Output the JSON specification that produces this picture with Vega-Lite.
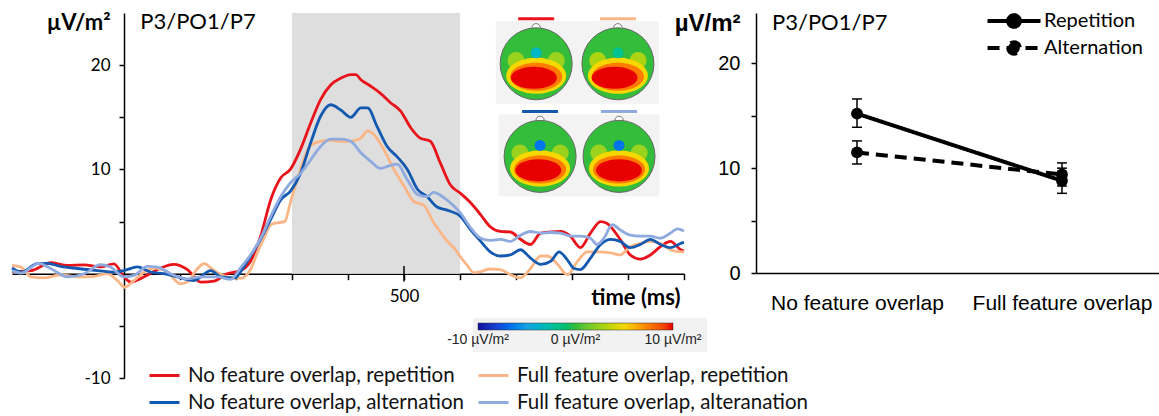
{
  "$schema": "https://vega.github.io/schema/vega-lite/v6.json",
  "padding": {"left": 6, "top": 8, "right": 0, "bottom": 0},
  "autosize": {"type": "pad"},
  "bounds": "flush",
  "spacing": 72,
  "config": {
    "view": {"stroke": null},
    "font": "Lato",
    "axis": {"grid": false, "domainColor": "black", "domainWidth": 1.5, "tickColor": "black", "tickWidth": 1.5, "labelColor": "black", "titleColor": "black"},
    "legend": {"labelLimit": 0}
  },
  "datasets": {
    "erp": [
      {"series": "No feature overlap, repetition", "t": -200, "v": 0.2},
      {"series": "No feature overlap, repetition", "t": -166, "v": 0.3},
      {"series": "No feature overlap, repetition", "t": -131, "v": 1.05},
      {"series": "No feature overlap, repetition", "t": -101, "v": 0.8},
      {"series": "No feature overlap, repetition", "t": -71, "v": 0.85},
      {"series": "No feature overlap, repetition", "t": -42, "v": 0.65},
      {"series": "No feature overlap, repetition", "t": -18, "v": 0.95},
      {"series": "No feature overlap, repetition", "t": 0, "v": -0.3},
      {"series": "No feature overlap, repetition", "t": 12, "v": -0.8},
      {"series": "No feature overlap, repetition", "t": 36, "v": -0.3},
      {"series": "No feature overlap, repetition", "t": 60, "v": 0.4},
      {"series": "No feature overlap, repetition", "t": 89, "v": 0.9},
      {"series": "No feature overlap, repetition", "t": 113, "v": 0.4},
      {"series": "No feature overlap, repetition", "t": 137, "v": -0.8},
      {"series": "No feature overlap, repetition", "t": 161, "v": -0.7},
      {"series": "No feature overlap, repetition", "t": 184, "v": 0.0},
      {"series": "No feature overlap, repetition", "t": 208, "v": 0.3},
      {"series": "No feature overlap, repetition", "t": 226, "v": 1.2},
      {"series": "No feature overlap, repetition", "t": 244, "v": 3.6},
      {"series": "No feature overlap, repetition", "t": 262, "v": 7.1},
      {"series": "No feature overlap, repetition", "t": 280, "v": 9.2},
      {"series": "No feature overlap, repetition", "t": 297, "v": 10.0},
      {"series": "No feature overlap, repetition", "t": 315, "v": 11.9},
      {"series": "No feature overlap, repetition", "t": 333, "v": 14.4},
      {"series": "No feature overlap, repetition", "t": 351, "v": 16.7},
      {"series": "No feature overlap, repetition", "t": 369, "v": 18.1},
      {"series": "No feature overlap, repetition", "t": 387, "v": 18.75},
      {"series": "No feature overlap, repetition", "t": 405, "v": 19.1},
      {"series": "No feature overlap, repetition", "t": 414, "v": 19.1},
      {"series": "No feature overlap, repetition", "t": 423, "v": 18.6},
      {"series": "No feature overlap, repetition", "t": 440, "v": 18.0},
      {"series": "No feature overlap, repetition", "t": 458, "v": 17.3},
      {"series": "No feature overlap, repetition", "t": 476, "v": 16.4},
      {"series": "No feature overlap, repetition", "t": 494, "v": 15.6},
      {"series": "No feature overlap, repetition", "t": 512, "v": 14.0},
      {"series": "No feature overlap, repetition", "t": 529, "v": 13.0},
      {"series": "No feature overlap, repetition", "t": 547, "v": 12.7},
      {"series": "No feature overlap, repetition", "t": 565, "v": 10.6},
      {"series": "No feature overlap, repetition", "t": 583, "v": 8.5},
      {"series": "No feature overlap, repetition", "t": 601, "v": 7.7},
      {"series": "No feature overlap, repetition", "t": 619, "v": 6.8},
      {"series": "No feature overlap, repetition", "t": 637, "v": 5.65},
      {"series": "No feature overlap, repetition", "t": 654, "v": 4.5},
      {"series": "No feature overlap, repetition", "t": 672, "v": 4.05},
      {"series": "No feature overlap, repetition", "t": 690, "v": 4.0},
      {"series": "No feature overlap, repetition", "t": 708, "v": 3.3},
      {"series": "No feature overlap, repetition", "t": 726, "v": 2.8},
      {"series": "No feature overlap, repetition", "t": 744, "v": 3.9},
      {"series": "No feature overlap, repetition", "t": 762, "v": 4.0},
      {"series": "No feature overlap, repetition", "t": 779, "v": 4.05},
      {"series": "No feature overlap, repetition", "t": 797, "v": 3.6},
      {"series": "No feature overlap, repetition", "t": 815, "v": 2.5},
      {"series": "No feature overlap, repetition", "t": 833, "v": 3.9},
      {"series": "No feature overlap, repetition", "t": 851, "v": 5.0},
      {"series": "No feature overlap, repetition", "t": 862, "v": 4.85},
      {"series": "No feature overlap, repetition", "t": 886, "v": 3.3},
      {"series": "No feature overlap, repetition", "t": 904, "v": 1.8},
      {"series": "No feature overlap, repetition", "t": 922, "v": 1.4},
      {"series": "No feature overlap, repetition", "t": 940, "v": 1.8},
      {"series": "No feature overlap, repetition", "t": 958, "v": 2.6},
      {"series": "No feature overlap, repetition", "t": 976, "v": 3.1},
      {"series": "No feature overlap, repetition", "t": 994, "v": 2.3},
      {"series": "No feature overlap, repetition", "t": 1000, "v": 2.2},

      {"series": "Full feature overlap, repetition", "t": -200, "v": 0.8},
      {"series": "Full feature overlap, repetition", "t": -184, "v": 0.64},
      {"series": "Full feature overlap, repetition", "t": -166, "v": -0.3},
      {"series": "Full feature overlap, repetition", "t": -143, "v": -0.4},
      {"series": "Full feature overlap, repetition", "t": -113, "v": -0.1},
      {"series": "Full feature overlap, repetition", "t": -83, "v": -0.3},
      {"series": "Full feature overlap, repetition", "t": -53, "v": -0.25},
      {"series": "Full feature overlap, repetition", "t": -30, "v": 0.0},
      {"series": "Full feature overlap, repetition", "t": -12, "v": -0.64},
      {"series": "Full feature overlap, repetition", "t": 1, "v": -1.3},
      {"series": "Full feature overlap, repetition", "t": 18, "v": -0.64},
      {"series": "Full feature overlap, repetition", "t": 36, "v": 0.16},
      {"series": "Full feature overlap, repetition", "t": 54, "v": 0.54},
      {"series": "Full feature overlap, repetition", "t": 77, "v": 0.16},
      {"series": "Full feature overlap, repetition", "t": 101, "v": -0.96},
      {"series": "Full feature overlap, repetition", "t": 113, "v": -0.8},
      {"series": "Full feature overlap, repetition", "t": 131, "v": 0.48},
      {"series": "Full feature overlap, repetition", "t": 143, "v": 0.96},
      {"series": "Full feature overlap, repetition", "t": 161, "v": 0.3},
      {"series": "Full feature overlap, repetition", "t": 184, "v": -0.3},
      {"series": "Full feature overlap, repetition", "t": 208, "v": -0.45},
      {"series": "Full feature overlap, repetition", "t": 226, "v": 0.4},
      {"series": "Full feature overlap, repetition", "t": 238, "v": 2.0},
      {"series": "Full feature overlap, repetition", "t": 250, "v": 3.4},
      {"series": "Full feature overlap, repetition", "t": 262, "v": 4.7},
      {"series": "Full feature overlap, repetition", "t": 276, "v": 4.9},
      {"series": "Full feature overlap, repetition", "t": 287, "v": 5.0},
      {"series": "Full feature overlap, repetition", "t": 297, "v": 6.8},
      {"series": "Full feature overlap, repetition", "t": 315, "v": 10.0},
      {"series": "Full feature overlap, repetition", "t": 333, "v": 12.3},
      {"series": "Full feature overlap, repetition", "t": 351, "v": 12.7},
      {"series": "Full feature overlap, repetition", "t": 369, "v": 12.8},
      {"series": "Full feature overlap, repetition", "t": 387, "v": 12.7},
      {"series": "Full feature overlap, repetition", "t": 405, "v": 12.7},
      {"series": "Full feature overlap, repetition", "t": 423, "v": 13.0},
      {"series": "Full feature overlap, repetition", "t": 435, "v": 13.7},
      {"series": "Full feature overlap, repetition", "t": 447, "v": 13.3},
      {"series": "Full feature overlap, repetition", "t": 464, "v": 11.9},
      {"series": "Full feature overlap, repetition", "t": 482, "v": 10.0},
      {"series": "Full feature overlap, repetition", "t": 500, "v": 8.4},
      {"series": "Full feature overlap, repetition", "t": 518, "v": 6.9},
      {"series": "Full feature overlap, repetition", "t": 535, "v": 6.6},
      {"series": "Full feature overlap, repetition", "t": 553, "v": 4.9},
      {"series": "Full feature overlap, repetition", "t": 565, "v": 4.0},
      {"series": "Full feature overlap, repetition", "t": 576, "v": 3.2},
      {"series": "Full feature overlap, repetition", "t": 589, "v": 2.5},
      {"series": "Full feature overlap, repetition", "t": 601, "v": 1.6},
      {"series": "Full feature overlap, repetition", "t": 613, "v": 0.8},
      {"series": "Full feature overlap, repetition", "t": 625, "v": 0.1},
      {"series": "Full feature overlap, repetition", "t": 637, "v": 0.2},
      {"series": "Full feature overlap, repetition", "t": 654, "v": 0.45},
      {"series": "Full feature overlap, repetition", "t": 672, "v": 0.4},
      {"series": "Full feature overlap, repetition", "t": 690, "v": -0.1},
      {"series": "Full feature overlap, repetition", "t": 708, "v": -0.4},
      {"series": "Full feature overlap, repetition", "t": 726, "v": 0.5},
      {"series": "Full feature overlap, repetition", "t": 744, "v": 1.7},
      {"series": "Full feature overlap, repetition", "t": 756, "v": 1.7},
      {"series": "Full feature overlap, repetition", "t": 774, "v": 0.9},
      {"series": "Full feature overlap, repetition", "t": 792, "v": -0.1},
      {"series": "Full feature overlap, repetition", "t": 810, "v": 1.2},
      {"series": "Full feature overlap, repetition", "t": 827, "v": 2.1},
      {"series": "Full feature overlap, repetition", "t": 845, "v": 2.1},
      {"series": "Full feature overlap, repetition", "t": 869, "v": 2.0},
      {"series": "Full feature overlap, repetition", "t": 886, "v": 1.8},
      {"series": "Full feature overlap, repetition", "t": 904, "v": 2.6},
      {"series": "Full feature overlap, repetition", "t": 922, "v": 2.9},
      {"series": "Full feature overlap, repetition", "t": 940, "v": 3.1},
      {"series": "Full feature overlap, repetition", "t": 958, "v": 2.9},
      {"series": "Full feature overlap, repetition", "t": 976, "v": 2.3},
      {"series": "Full feature overlap, repetition", "t": 994, "v": 2.1},
      {"series": "Full feature overlap, repetition", "t": 1000, "v": 2.1},

      {"series": "No feature overlap, alternation", "t": -200, "v": 0.55},
      {"series": "No feature overlap, alternation", "t": -183, "v": 0.16},
      {"series": "No feature overlap, alternation", "t": -155, "v": 0.96},
      {"series": "No feature overlap, alternation", "t": -137, "v": 1.0},
      {"series": "No feature overlap, alternation", "t": -113, "v": 0.7},
      {"series": "No feature overlap, alternation", "t": -83, "v": 0.5},
      {"series": "No feature overlap, alternation", "t": -47, "v": 0.3},
      {"series": "No feature overlap, alternation", "t": -18, "v": 0.16},
      {"series": "No feature overlap, alternation", "t": 0, "v": 0.3},
      {"series": "No feature overlap, alternation", "t": 24, "v": 0.65},
      {"series": "No feature overlap, alternation", "t": 48, "v": 0.16},
      {"series": "No feature overlap, alternation", "t": 71, "v": 0.0},
      {"series": "No feature overlap, alternation", "t": 95, "v": -0.3},
      {"series": "No feature overlap, alternation", "t": 125, "v": -0.65},
      {"series": "No feature overlap, alternation", "t": 155, "v": 0.3},
      {"series": "No feature overlap, alternation", "t": 173, "v": -0.3},
      {"series": "No feature overlap, alternation", "t": 198, "v": -0.4},
      {"series": "No feature overlap, alternation", "t": 212, "v": 0.5},
      {"series": "No feature overlap, alternation", "t": 226, "v": 1.7},
      {"series": "No feature overlap, alternation", "t": 244, "v": 3.3},
      {"series": "No feature overlap, alternation", "t": 262, "v": 5.2},
      {"series": "No feature overlap, alternation", "t": 280, "v": 7.1},
      {"series": "No feature overlap, alternation", "t": 297, "v": 7.9},
      {"series": "No feature overlap, alternation", "t": 315, "v": 9.6},
      {"series": "No feature overlap, alternation", "t": 333, "v": 12.5},
      {"series": "No feature overlap, alternation", "t": 351, "v": 15.1},
      {"series": "No feature overlap, alternation", "t": 369, "v": 16.2},
      {"series": "No feature overlap, alternation", "t": 387, "v": 15.7},
      {"series": "No feature overlap, alternation", "t": 405, "v": 15.0},
      {"series": "No feature overlap, alternation", "t": 423, "v": 15.9},
      {"series": "No feature overlap, alternation", "t": 435, "v": 15.9},
      {"series": "No feature overlap, alternation", "t": 452, "v": 14.1},
      {"series": "No feature overlap, alternation", "t": 470, "v": 12.2},
      {"series": "No feature overlap, alternation", "t": 488, "v": 11.2},
      {"series": "No feature overlap, alternation", "t": 506, "v": 10.0},
      {"series": "No feature overlap, alternation", "t": 524, "v": 8.1},
      {"series": "No feature overlap, alternation", "t": 541, "v": 7.4},
      {"series": "No feature overlap, alternation", "t": 559, "v": 6.4},
      {"series": "No feature overlap, alternation", "t": 577, "v": 6.1},
      {"series": "No feature overlap, alternation", "t": 601, "v": 5.5},
      {"series": "No feature overlap, alternation", "t": 619, "v": 4.2},
      {"series": "No feature overlap, alternation", "t": 637, "v": 3.1},
      {"series": "No feature overlap, alternation", "t": 654, "v": 2.1},
      {"series": "No feature overlap, alternation", "t": 672, "v": 1.7},
      {"series": "No feature overlap, alternation", "t": 690, "v": 1.8},
      {"series": "No feature overlap, alternation", "t": 708, "v": 2.3},
      {"series": "No feature overlap, alternation", "t": 726, "v": 1.5},
      {"series": "No feature overlap, alternation", "t": 744, "v": 0.9},
      {"series": "No feature overlap, alternation", "t": 762, "v": 1.2},
      {"series": "No feature overlap, alternation", "t": 777, "v": 2.1},
      {"series": "No feature overlap, alternation", "t": 792, "v": 1.3},
      {"series": "No feature overlap, alternation", "t": 804, "v": 0.5},
      {"series": "No feature overlap, alternation", "t": 815, "v": 0.4},
      {"series": "No feature overlap, alternation", "t": 833, "v": 1.5},
      {"series": "No feature overlap, alternation", "t": 851, "v": 2.8},
      {"series": "No feature overlap, alternation", "t": 869, "v": 3.3},
      {"series": "No feature overlap, alternation", "t": 886, "v": 3.1},
      {"series": "No feature overlap, alternation", "t": 904, "v": 2.5},
      {"series": "No feature overlap, alternation", "t": 922, "v": 2.8},
      {"series": "No feature overlap, alternation", "t": 940, "v": 3.3},
      {"series": "No feature overlap, alternation", "t": 958, "v": 2.8},
      {"series": "No feature overlap, alternation", "t": 976, "v": 2.5},
      {"series": "No feature overlap, alternation", "t": 994, "v": 2.9},
      {"series": "No feature overlap, alternation", "t": 1000, "v": 3.0},

      {"series": "Full feature overlap, alteranation", "t": -200, "v": 0.3},
      {"series": "Full feature overlap, alteranation", "t": -183, "v": 0.06},
      {"series": "Full feature overlap, alteranation", "t": -152, "v": 1.0},
      {"series": "Full feature overlap, alteranation", "t": -131, "v": 0.5},
      {"series": "Full feature overlap, alteranation", "t": -101, "v": -0.3},
      {"series": "Full feature overlap, alteranation", "t": -71, "v": 0.0},
      {"series": "Full feature overlap, alteranation", "t": -42, "v": 0.86},
      {"series": "Full feature overlap, alteranation", "t": -24, "v": 0.64},
      {"series": "Full feature overlap, alteranation", "t": 0, "v": -0.3},
      {"series": "Full feature overlap, alteranation", "t": 18, "v": -0.16},
      {"series": "Full feature overlap, alteranation", "t": 42, "v": 0.7},
      {"series": "Full feature overlap, alteranation", "t": 60, "v": 0.64},
      {"series": "Full feature overlap, alteranation", "t": 83, "v": 0.0},
      {"series": "Full feature overlap, alteranation", "t": 113, "v": -0.5},
      {"series": "Full feature overlap, alteranation", "t": 137, "v": -0.3},
      {"series": "Full feature overlap, alteranation", "t": 167, "v": -0.3},
      {"series": "Full feature overlap, alteranation", "t": 190, "v": -0.55},
      {"series": "Full feature overlap, alteranation", "t": 210, "v": 0.7},
      {"series": "Full feature overlap, alteranation", "t": 226, "v": 1.8},
      {"series": "Full feature overlap, alteranation", "t": 244, "v": 3.4},
      {"series": "Full feature overlap, alteranation", "t": 262, "v": 5.5},
      {"series": "Full feature overlap, alteranation", "t": 280, "v": 7.4},
      {"series": "Full feature overlap, alteranation", "t": 297, "v": 8.7},
      {"series": "Full feature overlap, alteranation", "t": 315, "v": 9.6},
      {"series": "Full feature overlap, alteranation", "t": 333, "v": 10.9},
      {"series": "Full feature overlap, alteranation", "t": 351, "v": 12.2},
      {"series": "Full feature overlap, alteranation", "t": 369, "v": 12.9},
      {"series": "Full feature overlap, alteranation", "t": 387, "v": 12.9},
      {"series": "Full feature overlap, alteranation", "t": 405, "v": 12.7},
      {"series": "Full feature overlap, alteranation", "t": 423, "v": 11.6},
      {"series": "Full feature overlap, alteranation", "t": 440, "v": 10.8},
      {"series": "Full feature overlap, alteranation", "t": 458, "v": 10.1},
      {"series": "Full feature overlap, alteranation", "t": 476, "v": 10.4},
      {"series": "Full feature overlap, alteranation", "t": 488, "v": 10.5},
      {"series": "Full feature overlap, alteranation", "t": 506, "v": 9.0},
      {"series": "Full feature overlap, alteranation", "t": 524, "v": 7.6},
      {"series": "Full feature overlap, alteranation", "t": 541, "v": 7.4},
      {"series": "Full feature overlap, alteranation", "t": 553, "v": 7.8},
      {"series": "Full feature overlap, alteranation", "t": 571, "v": 7.3},
      {"series": "Full feature overlap, alteranation", "t": 589, "v": 6.5},
      {"series": "Full feature overlap, alteranation", "t": 601, "v": 5.8},
      {"series": "Full feature overlap, alteranation", "t": 619, "v": 4.4},
      {"series": "Full feature overlap, alteranation", "t": 637, "v": 3.4},
      {"series": "Full feature overlap, alteranation", "t": 654, "v": 3.2},
      {"series": "Full feature overlap, alteranation", "t": 672, "v": 3.3},
      {"series": "Full feature overlap, alteranation", "t": 690, "v": 3.1},
      {"series": "Full feature overlap, alteranation", "t": 708, "v": 3.7},
      {"series": "Full feature overlap, alteranation", "t": 726, "v": 4.05},
      {"series": "Full feature overlap, alteranation", "t": 744, "v": 3.9},
      {"series": "Full feature overlap, alteranation", "t": 762, "v": 3.95},
      {"series": "Full feature overlap, alteranation", "t": 779, "v": 3.9},
      {"series": "Full feature overlap, alteranation", "t": 797, "v": 3.6},
      {"series": "Full feature overlap, alteranation", "t": 815, "v": 3.6},
      {"series": "Full feature overlap, alteranation", "t": 833, "v": 3.4},
      {"series": "Full feature overlap, alteranation", "t": 845, "v": 2.8},
      {"series": "Full feature overlap, alteranation", "t": 857, "v": 3.4},
      {"series": "Full feature overlap, alteranation", "t": 872, "v": 4.7},
      {"series": "Full feature overlap, alteranation", "t": 886, "v": 4.2},
      {"series": "Full feature overlap, alteranation", "t": 904, "v": 3.7},
      {"series": "Full feature overlap, alteranation", "t": 922, "v": 3.6},
      {"series": "Full feature overlap, alteranation", "t": 940, "v": 3.6},
      {"series": "Full feature overlap, alteranation", "t": 958, "v": 3.4},
      {"series": "Full feature overlap, alteranation", "t": 976, "v": 3.9},
      {"series": "Full feature overlap, alteranation", "t": 988, "v": 4.3},
      {"series": "Full feature overlap, alteranation", "t": 1000, "v": 4.1}
    ],
    "topo": [
      {"map": "No feature overlap, repetition", "part": "scalp", "t": 736, "v": 20.13, "amp": 0},
      {"map": "No feature overlap, repetition", "part": "horn", "t": 700, "v": 20.45, "amp": 2.5},
      {"map": "No feature overlap, repetition", "part": "horn", "t": 772, "v": 20.45, "amp": 2.5},
      {"map": "No feature overlap, repetition", "part": "band", "t": 736, "v": 18.98, "amp": 5},
      {"map": "No feature overlap, repetition", "part": "halo", "t": 736, "v": 18.88, "amp": 7.5},
      {"map": "No feature overlap, repetition", "part": "core", "t": 732, "v": 18.79, "amp": 10},
      {"map": "No feature overlap, repetition", "part": "spot", "t": 736, "v": 21.18, "amp": -3.5},
      {"map": "Full feature overlap, repetition", "part": "scalp", "t": 882, "v": 20.13, "amp": 0},
      {"map": "Full feature overlap, repetition", "part": "horn", "t": 846, "v": 20.45, "amp": 3},
      {"map": "Full feature overlap, repetition", "part": "horn", "t": 918, "v": 20.45, "amp": 3},
      {"map": "Full feature overlap, repetition", "part": "band", "t": 882, "v": 18.98, "amp": 5},
      {"map": "Full feature overlap, repetition", "part": "halo", "t": 882, "v": 18.88, "amp": 7.5},
      {"map": "Full feature overlap, repetition", "part": "core", "t": 876, "v": 18.79, "amp": 10},
      {"map": "Full feature overlap, repetition", "part": "spot", "t": 882, "v": 21.18, "amp": -2},
      {"map": "No feature overlap, alternation", "part": "scalp", "t": 743, "v": 11.25, "amp": 0},
      {"map": "No feature overlap, alternation", "part": "horn", "t": 707, "v": 11.57, "amp": 2.5},
      {"map": "No feature overlap, alternation", "part": "horn", "t": 779, "v": 11.57, "amp": 2.5},
      {"map": "No feature overlap, alternation", "part": "band", "t": 743, "v": 10.1, "amp": 5},
      {"map": "No feature overlap, alternation", "part": "halo", "t": 743, "v": 10.0, "amp": 7.5},
      {"map": "No feature overlap, alternation", "part": "core", "t": 740, "v": 9.91, "amp": 10},
      {"map": "No feature overlap, alternation", "part": "spot", "t": 743, "v": 12.3, "amp": -6.5},
      {"map": "Full feature overlap, alteranation", "part": "scalp", "t": 884, "v": 11.25, "amp": 0},
      {"map": "Full feature overlap, alteranation", "part": "horn", "t": 848, "v": 11.57, "amp": 2.5},
      {"map": "Full feature overlap, alteranation", "part": "horn", "t": 920, "v": 11.57, "amp": 2.5},
      {"map": "Full feature overlap, alteranation", "part": "band", "t": 884, "v": 10.1, "amp": 5},
      {"map": "Full feature overlap, alteranation", "part": "halo", "t": 884, "v": 10.0, "amp": 7.5},
      {"map": "Full feature overlap, alteranation", "part": "core", "t": 884, "v": 9.91, "amp": 10},
      {"map": "Full feature overlap, alteranation", "part": "spot", "t": 884, "v": 12.3, "amp": -6.5}
    ],
    "panels": [
      {"t1": 664, "t2": 955, "v1": 24.2, "v2": 16.3},
      {"t1": 669, "t2": 956, "v1": 15.3, "v2": 7.4}
    ],
    "cond": [
      {"overlap": "No feature overlap", "series": "Repetition", "mean": 15.2, "lo": 13.9, "hi": 16.6},
      {"overlap": "Full feature overlap", "series": "Repetition", "mean": 8.8, "lo": 7.6, "hi": 10.0},
      {"overlap": "No feature overlap", "series": "Alternation", "mean": 11.5, "lo": 10.4, "hi": 12.6},
      {"overlap": "Full feature overlap", "series": "Alternation", "mean": 9.4, "lo": 8.3, "hi": 10.5}
    ]
  },
  "resolve": {
    "scale": {"color": "independent", "fill": "independent", "strokeDash": "independent", "size": "independent", "shape": "independent"},
    "legend": {"color": "independent", "fill": "independent", "strokeDash": "independent", "size": "independent", "shape": "independent"}
  },
  "hconcat": [
    {
      "width": 672,
      "height": 365,
      "layer": [
        {
          "data": {"values": [{"start": 300, "end": 600}]},
          "mark": {"type": "rect", "color": "#dedede"},
          "encoding": {
            "x": {"field": "start", "type": "quantitative"},
            "x2": {"field": "end"},
            "y": {"datum": 0, "type": "quantitative"},
            "y2": {"datum": 25}
          }
        },
        {
          "data": {"values": [{}]},
          "mark": {"type": "rule", "color": "black", "strokeWidth": 1.5},
          "encoding": {
            "x": {"datum": 500, "type": "quantitative"},
            "y": {"datum": -0.75, "type": "quantitative"},
            "y2": {"datum": 0.75}
          }
        },
        {
          "data": {"values": [{"label": "P3/PO1/P7"}]},
          "mark": {"type": "text", "align": "left", "baseline": "middle", "font": "Lato", "fontSize": 22, "color": "black"},
          "encoding": {
            "x": {"datum": 29, "type": "quantitative"},
            "y": {"datum": 24.1, "type": "quantitative"},
            "text": {"field": "label"}
          }
        },
        {
          "data": {"name": "erp"},
          "mark": {"type": "line", "strokeWidth": 2.8, "interpolate": "monotone"},
          "encoding": {
            "x": {
              "field": "t", "type": "quantitative",
              "scale": {"domain": [-200, 1000], "nice": false, "zero": false},
              "axis": {
                "values": [100, 200, 300, 400, 500, 600, 700, 800, 900, 1000],
                "labelExpr": "datum.value == 500 ? '500' : ''",
                "offset": -104.3, "tickSize": 6, "labelPadding": 9,
                "labelFont": "Lato", "labelFontSize": 17,
                "title": "time (ms)", "titleFont": "Lato", "titleFontSize": 22, "titleFontWeight": "bold",
                "titleX": 668, "titleY": 24, "titleAlign": "right", "titleBaseline": "middle", "titleAnchor": "end"
              }
            },
            "y": {
              "field": "v", "type": "quantitative",
              "scale": {"domain": [-10, 25], "nice": false, "zero": false},
              "axis": {
                "values": [-10, -5, 0, 5, 10, 15, 20],
                "labelExpr": "datum.value == 20 || datum.value == 10 || datum.value == -10 ? '' + datum.value : ''",
                "offset": -112, "tickSize": 5, "labelPadding": 9,
                "labelFont": "Lato", "labelFontSize": 17,
                "title": "µV/m²", "titleAngle": 0, "titleX": -14, "titleY": 9, "titleAlign": "right", "titleBaseline": "middle",
                "titleFont": "Lato", "titleFontSize": 22, "titleFontWeight": "bold"
              }
            },
            "color": {
              "field": "series", "type": "nominal",
              "scale": {
                "domain": ["No feature overlap, repetition", "No feature overlap, alternation", "Full feature overlap, repetition", "Full feature overlap, alteranation"],
                "range": ["#e8131b", "#1459b0", "#fbb688", "#8eaadf"]
              },
              "legend": {
                "orient": "none", "legendX": 136, "legendY": 346, "columns": 2, "title": null,
                "symbolType": "stroke", "symbolSize": 900, "symbolStrokeWidth": 3,
                "labelFont": "Lato", "labelFontSize": 20.5, "labelColor": "#111", "labelOffset": 7,
                "rowPadding": -3, "columnPadding": 8, "padding": 0
              }
            }
          }
        },
        {
          "data": {"name": "panels"},
          "mark": {"type": "rect", "color": "#f3f3f3"},
          "encoding": {
            "x": {"field": "t1", "type": "quantitative"},
            "x2": {"field": "t2"},
            "y": {"field": "v1", "type": "quantitative"},
            "y2": {"field": "v2"}
          }
        },
        {
          "data": {"name": "topo"},
          "transform": [{"filter": "datum.part == 'scalp'"}],
          "mark": {"type": "tick", "orient": "horizontal", "size": 36, "thickness": 3, "yOffset": -45, "opacity": 1},
          "encoding": {
            "x": {"field": "t", "type": "quantitative"},
            "y": {"field": "v", "type": "quantitative"},
            "color": {"field": "map", "type": "nominal"}
          }
        },
        {
          "data": {"name": "topo"},
          "transform": [{"filter": "datum.part == 'scalp'"}],
          "mark": {"type": "point", "filled": true, "fill": "white", "stroke": "#777", "strokeWidth": 1, "size": 70, "yOffset": -36, "opacity": 1},
          "encoding": {
            "x": {"field": "t", "type": "quantitative"},
            "y": {"field": "v", "type": "quantitative"}
          }
        },
        {
          "data": {"name": "topo"},
          "mark": {"type": "point", "filled": true, "opacity": 1, "stroke": "#666"},
          "encoding": {
            "x": {"field": "t", "type": "quantitative"},
            "y": {"field": "v", "type": "quantitative"},
            "strokeWidth": {"condition": {"test": "datum.part == 'scalp'", "value": 1}, "value": 0},
            "size": {
              "field": "part", "type": "nominal", "legend": null,
              "scale": {"type": "ordinal", "domain": ["scalp", "horn", "band", "halo", "core", "spot"], "range": [5184, 289, 3600, 2704, 2116, 121]}
            },
            "shape": {
              "field": "part", "type": "nominal", "legend": null,
              "scale": {
                "domain": ["scalp", "horn", "band", "halo", "core", "spot"],
                "range": ["circle", "circle", "M-1,0A1,0.6,0,1,0,1,0A1,0.6,0,1,0,-1,0Z", "M-1,0A1,0.54,0,1,0,1,0A1,0.54,0,1,0,-1,0Z", "M-1,0A1,0.48,0,1,0,1,0A1,0.48,0,1,0,-1,0Z", "circle"]
              }
            },
            "fill": {
              "field": "amp", "type": "quantitative",
              "scale": {
                "domain": [-10, -7.5, -5, -2.5, 0, 2.5, 5, 7.5, 10],
                "range": ["#10109a", "#1450e6", "#1aa0e0", "#22c0a0", "#33bd3a", "#9ad21e", "#f5d800", "#ff7a00", "#e80000"]
              },
              "legend": {
                "orient": "none", "direction": "horizontal", "legendX": 461, "legendY": 305,
                "gradientLength": 195, "gradientThickness": 7, "values": [-10, 0, 10],
                "labelExpr": "datum.value + ' µV/m²'", "labelFont": "Liberation Sans", "labelFontSize": 14, "labelColor": "#222",
                "labelAlign": "center", "labelOffset": 3, "fillColor": "#f2f2f2", "padding": 5, "title": null,
                "gradientStrokeColor": "#333", "gradientStrokeWidth": 0.5,
                "encoding": {"labels": {"align": {"value": "center"}}}
              }
            }
          }
        }
      ]
    },
    {
      "width": 403,
      "height": 260,
      "data": {"name": "cond"},
      "encoding": {
        "x": {
          "field": "overlap", "type": "nominal", "sort": ["No feature overlap", "Full feature overlap"],
          "scale": {"type": "point", "padding": 0.483, "align": 0.51},
          "axis": {"title": null, "ticks": false, "labelPadding": 19, "labelAngle": 0, "labelFont": "Liberation Sans", "labelFontSize": 21}
        }
      },
      "layer": [
        {
          "mark": {"type": "rule", "color": "black", "strokeWidth": 1.5},
          "encoding": {
            "y": {"field": "lo", "type": "quantitative"},
            "y2": {"field": "hi"},
            "detail": {"field": "series"}
          }
        },
        {
          "mark": {"type": "tick", "color": "black", "size": 10, "thickness": 1.5, "opacity": 1},
          "encoding": {"y": {"field": "lo", "type": "quantitative"}, "detail": {"field": "series"}}
        },
        {
          "mark": {"type": "tick", "color": "black", "size": 10, "thickness": 1.5, "opacity": 1},
          "encoding": {"y": {"field": "hi", "type": "quantitative"}, "detail": {"field": "series"}}
        },
        {
          "mark": {"type": "line", "color": "black", "strokeWidth": 4},
          "encoding": {
            "y": {
              "field": "mean", "type": "quantitative",
              "scale": {"domain": [0, 24.8], "nice": false, "zero": false},
              "axis": {
                "values": [0, 5, 10, 15, 20],
                "labelExpr": "datum.value == 0 || datum.value == 10 || datum.value == 20 ? datum.label : ''",
                "tickSize": 5, "labelPadding": 11, "labelFont": "Liberation Sans", "labelFontSize": 20,
                "title": "µV/m²", "titleAngle": 0, "titleX": -16, "titleY": 10, "titleAlign": "right", "titleBaseline": "middle",
                "titleFont": "Liberation Sans", "titleFontSize": 24, "titleFontWeight": "bold"
              }
            },
            "strokeDash": {
              "field": "series", "type": "nominal",
              "scale": {"domain": ["Repetition", "Alternation"], "range": [[1, 0], [12, 7]]},
              "legend": {
                "orient": "none", "legendX": 245, "legendY": -5, "title": null,
                "symbolType": "M-2.5,0H2.5M-0.55,0A0.55,0.55,0,1,0,0.55,0A0.55,0.55,0,1,0,-0.55,0Z",
                "symbolSize": 449, "symbolStrokeWidth": 4, "symbolStrokeColor": "black", "symbolFillColor": "black",
                "labelFont": "Lato", "labelFontSize": 20, "labelColor": "black", "labelOffset": 17, "rowPadding": -3, "padding": 0
              }
            }
          }
        },
        {
          "mark": {"type": "point", "filled": true, "color": "black", "size": 140, "opacity": 1},
          "encoding": {"y": {"field": "mean", "type": "quantitative"}, "detail": {"field": "series"}}
        },
        {
          "data": {"values": [{"label": "P3/PO1/P7"}]},
          "mark": {"type": "text", "align": "left", "baseline": "middle", "font": "Lato", "fontSize": 22, "color": "black", "dx": -85},
          "encoding": {
            "x": {"datum": "No feature overlap"},
            "y": {"datum": 23.8, "type": "quantitative"},
            "text": {"field": "label"}
          }
        }
      ]
    }
  ]
}
